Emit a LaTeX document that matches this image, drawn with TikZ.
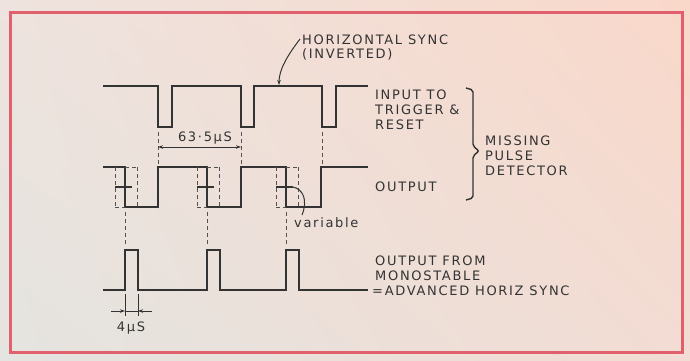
\documentclass[tikz,border=0pt]{standalone}
\usepackage{fontspec}
\setmainfont{DejaVu Sans}
\newfontfamily\labfont[LetterSpace=13]{DejaVu Sans}
\usetikzlibrary{arrows.meta,shadings}
\definecolor{ink}{HTML}{333333}
\definecolor{frame}{HTML}{E0606E}
\definecolor{bgUL}{HTML}{EEE3DE}
\definecolor{bgUR}{HTML}{F9D8CA}
\definecolor{bgLL}{HTML}{E4E4E0}
\definecolor{bgLR}{HTML}{F2DCD3}
\begin{document}
\begin{tikzpicture}[x=1pt,y=-1pt,
  trace/.style={ink, line width=2.7pt, line join=miter, line cap=butt},
  guide/.style={ink!85, line width=0.9pt, dash pattern=on 4pt off 3pt},
  dim/.style={ink, line width=1pt},
  tip/.style={-{Stealth[length=5pt,width=3.5pt]}},
  lab/.style={anchor=west, inner sep=0pt, text height=9.5pt, text depth=0pt,
              font=\labfont\fontsize{13}{15}\selectfont, text=ink},
  clab/.style={lab, anchor=center},
]
\useasboundingbox (0,0) rectangle (690,360);
\shade[upper left=bgUL, upper right=bgUR, lower left=bgLL, lower right=bgLR]
  (0,0) rectangle (690,360);
\draw[frame, line width=3pt] (10,12) rectangle (682,352);

% ---- input to trigger & reset
\draw[trace] (103,86) -- (158,86) -- (158,127) -- (172,127) -- (172,86)
  -- (241,86) -- (241,127) -- (254,127) -- (254,86)
  -- (322,86) -- (322,127) -- (336,127) -- (336,86) -- (368,86);

% ---- output of missing pulse detector
\draw[trace] (103,167) -- (125,167) -- (125,207) -- (158,207) -- (158,167)
  -- (207,167) -- (207,207) -- (241,207) -- (241,167)
  -- (286,167) -- (286,207) -- (321,207) -- (321,167) -- (368,167);

% variable regions
\foreach \s in {125,207,286}{
  \draw[guide] (\s-10,167) -- (\s-10,207);
  \draw[guide] (\s+12,167) -- (\s+12,207);
  \draw[guide] (\s,167) -- (\s+12,167);
  \draw[guide] (\s-10,207) -- (\s,207);
  \draw[ink, line width=1.3pt] (\s-10,187) -- (\s+7,187);
}

% ---- monostable output
\draw[trace] (103,290) -- (125,290) -- (125,250) -- (138,250) -- (138,290)
  -- (207,290) -- (207,250) -- (220,250) -- (220,290)
  -- (286,290) -- (286,250) -- (299,250) -- (299,290) -- (368,290);

% dashed alignment lines
\foreach \x in {158,241,322}{ \draw[guide] (\x,132) -- (\x,164); }
\foreach \x in {125,207,286}{ \draw[guide] (\x,212) -- (\x,246); }

% 63.5 us dimension
\coordinate (d1) at (158,147);
\coordinate (d2) at (241,147);
\draw[dim, {Stealth[length=5pt,width=3.5pt]}-{Stealth[length=5pt,width=3.5pt]}] (d1) -- (d2);
\node[clab] (per) at (205,137) {63·5µS};

% 4 us dimension
\draw[dim] (125,294) -- (125,316);
\draw[dim] (138,294) -- (138,316);
\coordinate (w1) at (125,311);
\coordinate (w2) at (138,311);
\draw[dim, tip] (111,311) -- (w1);
\draw[dim, tip] (152,311) -- (w2);
\draw[dim] (w1) -- (w2);
\node[clab] (wid) at (131,327) {4µS};

% labels
\node[lab] (hs1) at (302,40) {HORIZONTAL SYNC};
\node[lab] (hs2) at (302,54) {(INVERTED)};
\coordinate (hsstart) at (300,39);
\coordinate (hsend) at (279,85);
\draw[dim, tip] (hsstart) .. controls (287,56) and (279,70) .. (hsend);

\node[lab] (in1) at (375,95) {INPUT TO};
\node[lab] (in2) at (375,110) {TRIGGER \&};
\node[lab] (in3) at (375,125) {RESET};
\node[lab] (out) at (375,187) {OUTPUT};

\draw[ink, line width=1.4pt, rounded corners=2pt]
  (466,88) -- (473,90) -- (473,146) -- (479,151) -- (473,156) -- (473,198) -- (466,200);
\node[lab] (mp1) at (485,141) {MISSING};
\node[lab] (mp2) at (485,156) {PULSE};
\node[lab] (mp3) at (485,171) {DETECTOR};

\node[lab] (var) at (294,223) {variable};
\coordinate (varstart) at (293,187);
\coordinate (varend) at (302,215);
\draw[dim] (varstart) .. controls (303,189) and (308,200) .. (varend);

\node[lab] (mo1) at (375,261) {OUTPUT FROM};
\node[lab] (mo2) at (375,276) {MONOSTABLE};
\node[lab] (mo3) at (372,291) {=ADVANCED HORIZ SYNC};
\end{tikzpicture}
\end{document}
